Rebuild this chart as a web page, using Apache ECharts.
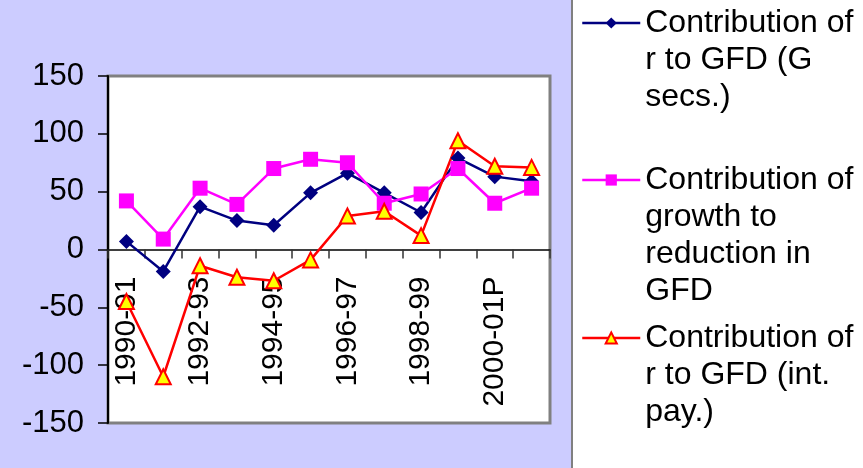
<!DOCTYPE html>
<html>
<head>
<meta charset="utf-8">
<script src="https://cdn.jsdelivr.net/npm/echarts@6/dist/echarts.min.js"></script>
<style>
  html, body { margin: 0; padding: 0; background: #fff; }
  #chart { width: 863px; height: 468px; }
</style>
</head>
<body>
<div id="chart"></div>
<script>
// categories (fiscal years)
const years = ['1990-91', '1991-92', '1992-93', '1993-94', '1994-95', '1995-96',
  '1996-97', '1997-98', '1998-99', '1999-00', '2000-01P', '2001-02'];

// series values
const gSecs = [7, -19, 37, 25, 21, 49, 66, 49, 32, 79, 63, 59];
const growth = [42, 9, 53, 39, 70, 78, 75, 40, 48, 70, 40, 53];
const intPay = [-45, -110, -14, -24, -27, -9, 29, 33, 12, 94, 72, 71];

const seriesNames = [
  'Contribution of r to GFD (G secs.)',
  'Contribution of growth to reduction in GFD',
  'Contribution of r to GFD (int. pay.)'
];
// legend text, wrapped like the original
const legendLines = [
  ['Contribution of', 'r to GFD (G', 'secs.)'],
  ['Contribution of', 'growth to', 'reduction in', 'GFD'],
  ['Contribution of', 'r to GFD (int.', 'pay.)']
];
const yTicks = { min: -150, max: 150, step: 50 };

const FONT = 'Liberation Sans, Arial, sans-serif';
const LH = 37;
const legendIconY = [23, 180, 338];

// grid box; the category axis sits on the zero line (middle of the box)
const GRID = { left: 108, top: 76, right: 313, bottom: 45 };
const plotH = 468 - GRID.top - GRID.bottom;
const zeroShift = -plotH * (0 - yTicks.min) / (yTicks.max - yTicks.min);

// one legend per entry; blank lines in front keep the icon on the first text line
const legends = seriesNames.map((name, i) => {
  const lines = legendLines[i];
  const pad = lines.length - 1;
  const total = pad + lines.length;
  return {
    data: [name],
    orient: 'vertical',
    left: 581,
    top: legendIconY[i] - (total * LH) / 2,
    padding: 0,
    itemWidth: 58,
    itemHeight: 14,
    itemGap: 0,
    selectedMode: false,
    lineStyle: { width: 2.5 },
    formatter: () => '\n'.repeat(pad) + lines.join('\n'),
    textStyle: { fontFamily: FONT, fontSize: 32, color: '#000', lineHeight: LH }
  };
});

const chart = echarts.init(document.getElementById('chart'));
chart.setOption({
  animation: false,
  backgroundColor: '#fff',
  graphic: [
    { type: 'rect', z: -10, silent: true, shape: { x: 0, y: 0, width: 571, height: 468 }, style: { fill: '#CCCCFF' } },
    { type: 'line', z: -9, silent: true, shape: { x1: 572, y1: 0, x2: 572, y2: 468 }, style: { stroke: '#808080', lineWidth: 2 } }
  ],
  legend: legends,
  grid: {
    left: GRID.left, top: GRID.top, right: GRID.right, bottom: GRID.bottom,
    containLabel: false, outerBoundsMode: 'none',
    show: true, backgroundColor: '#fff', borderColor: '#808080', borderWidth: 3
  },
  xAxis: {
    type: 'category',
    data: years,
    boundaryGap: true,
    offset: zeroShift,
    axisLine: { onZero: false, lineStyle: { color: '#000', width: 1.5 } },
    axisTick: { show: true, inside: false, length: 9, interval: 0, lineStyle: { color: '#333', width: 1.5 } },
    axisLabel: { interval: 1, rotate: 90, margin: 27, fontFamily: FONT, fontSize: 30, color: '#000' },
    splitLine: { show: false }
  },
  yAxis: {
    type: 'value',
    min: yTicks.min, max: yTicks.max, interval: yTicks.step,
    axisLine: { show: true, lineStyle: { color: '#000', width: 2 } },
    axisTick: { show: true, length: 10, lineStyle: { color: '#000', width: 1.5 } },
    axisLabel: { margin: 24, fontFamily: FONT, fontSize: 31, color: '#000' },
    splitLine: { show: false }
  },
  series: [
    {
      name: seriesNames[0], type: 'line', data: gSecs,
      symbol: 'diamond', symbolSize: 15,
      lineStyle: { color: '#000080', width: 2.5 },
      itemStyle: { color: '#000080' }
    },
    {
      name: seriesNames[1], type: 'line', data: growth,
      symbol: 'rect', symbolSize: 15,
      lineStyle: { color: '#FF00FF', width: 2.5 },
      itemStyle: { color: '#FF00FF' }
    },
    {
      name: seriesNames[2], type: 'line', data: intPay,
      symbol: 'triangle', symbolSize: 15,
      lineStyle: { color: '#FF0000', width: 2.5 },
      itemStyle: { color: '#FFFF00', borderColor: '#FF0000', borderWidth: 2 }
    }
  ]
});
</script>
</body>
</html>
